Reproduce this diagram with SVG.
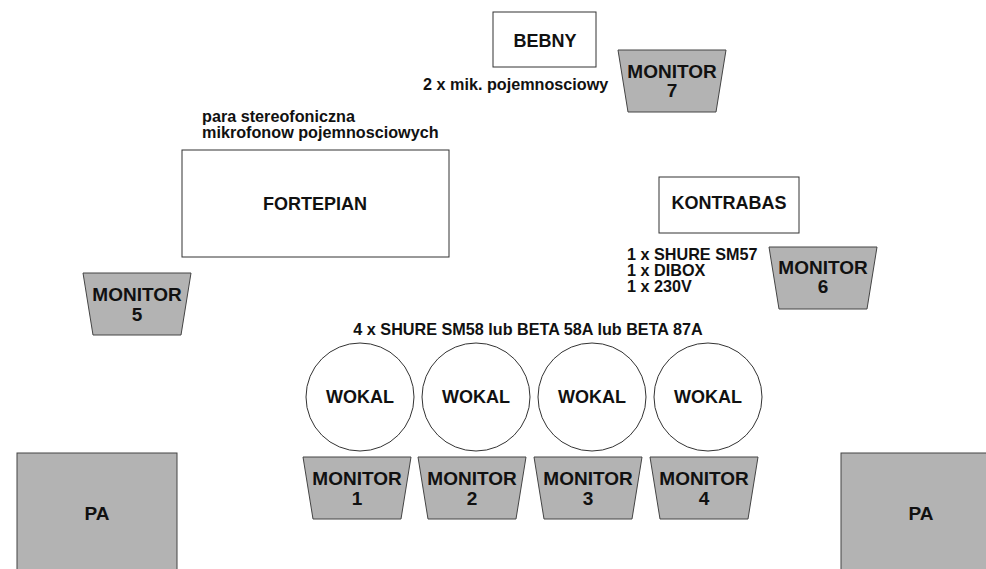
<svg xmlns="http://www.w3.org/2000/svg" xmlns:xlink="http://www.w3.org/1999/xlink" width="986" height="569" viewBox="0 0 986 569">
<style>
text{font-family:"Liberation Sans",Arial,sans-serif;font-weight:bold;fill:#111}
.lbl{font-size:18px;text-anchor:middle}
.mt{font-size:19px;text-anchor:middle}
.sm{font-size:16.2px}
.box{fill:#fff;stroke:#333;stroke-width:1}
.gray{fill:#b3b3b3;stroke:#444;stroke-width:1}
.circ{fill:#fff;stroke:#333;stroke-width:1}
</style>
<defs>
<polygon id="mon" class="gray" points="0,0 108,0 98,62 10,62"/>
</defs>
<rect width="986" height="569" fill="#fff"/>
<g id="connectors"></g>

<g id="bebny"><rect class="box" x="493" y="12" width="103" height="55"/><text class="lbl" x="545" y="47">BEBNY</text></g>
<g id="bebny-note"><text class="sm" x="423" y="90">2 x mik. pojemnosciowy</text></g>

<g id="fortepian"><rect class="box" x="182" y="150" width="267" height="107"/><text class="lbl" x="315" y="210">FORTEPIAN</text></g>
<g id="fortepian-note"><text class="sm" x="202" y="122">para stereofoniczna</text><text class="sm" x="202" y="138">mikrofonow pojemnosciowych</text></g>

<g id="kontrabas"><rect class="box" x="659" y="177" width="140" height="56"/><text class="lbl" x="729" y="209">KONTRABAS</text></g>
<g id="kontrabas-note"><text class="sm" x="627" y="260">1 x SHURE SM57</text><text class="sm" x="627" y="276">1 x DIBOX</text><text class="sm" x="627" y="292">1 x 230V</text></g>

<g id="monitor7"><use xlink:href="#mon" x="618" y="50"/><text class="mt" x="672" y="78">MONITOR</text><text class="mt" x="672" y="97">7</text></g>
<g id="monitor6"><use xlink:href="#mon" x="769" y="247"/><text class="mt" x="823" y="274">MONITOR</text><text class="mt" x="823" y="293">6</text></g>
<g id="monitor5"><use xlink:href="#mon" x="83" y="273"/><text class="mt" x="137" y="301">MONITOR</text><text class="mt" x="137" y="321">5</text></g>

<g id="wokal-note"><text class="sm" x="528" y="335" text-anchor="middle">4 x SHURE SM58 lub BETA 58A lub BETA 87A</text></g>

<g id="wokal1"><circle class="circ" cx="360" cy="397" r="54"/><text class="lbl" x="360" y="403">WOKAL</text></g>
<g id="wokal2"><circle class="circ" cx="476" cy="397" r="54"/><text class="lbl" x="476" y="403">WOKAL</text></g>
<g id="wokal3"><circle class="circ" cx="592" cy="397" r="54"/><text class="lbl" x="592" y="403">WOKAL</text></g>
<g id="wokal4"><circle class="circ" cx="708" cy="397" r="54"/><text class="lbl" x="708" y="403">WOKAL</text></g>

<g id="monitor1"><use xlink:href="#mon" x="303" y="457"/><text class="mt" x="357" y="485">MONITOR</text><text class="mt" x="357" y="505">1</text></g>
<g id="monitor2"><use xlink:href="#mon" x="418" y="457"/><text class="mt" x="472" y="485">MONITOR</text><text class="mt" x="472" y="505">2</text></g>
<g id="monitor3"><use xlink:href="#mon" x="534" y="457"/><text class="mt" x="588" y="485">MONITOR</text><text class="mt" x="588" y="505">3</text></g>
<g id="monitor4"><use xlink:href="#mon" x="650" y="457"/><text class="mt" x="704" y="485">MONITOR</text><text class="mt" x="704" y="505">4</text></g>

<g id="pa-left"><rect class="gray" x="17" y="453" width="160" height="130"/><text class="mt" x="97" y="520">PA</text></g>
<g id="pa-right"><rect class="gray" x="841" y="453" width="160" height="130"/><text class="mt" x="921" y="520">PA</text></g>
</svg>
